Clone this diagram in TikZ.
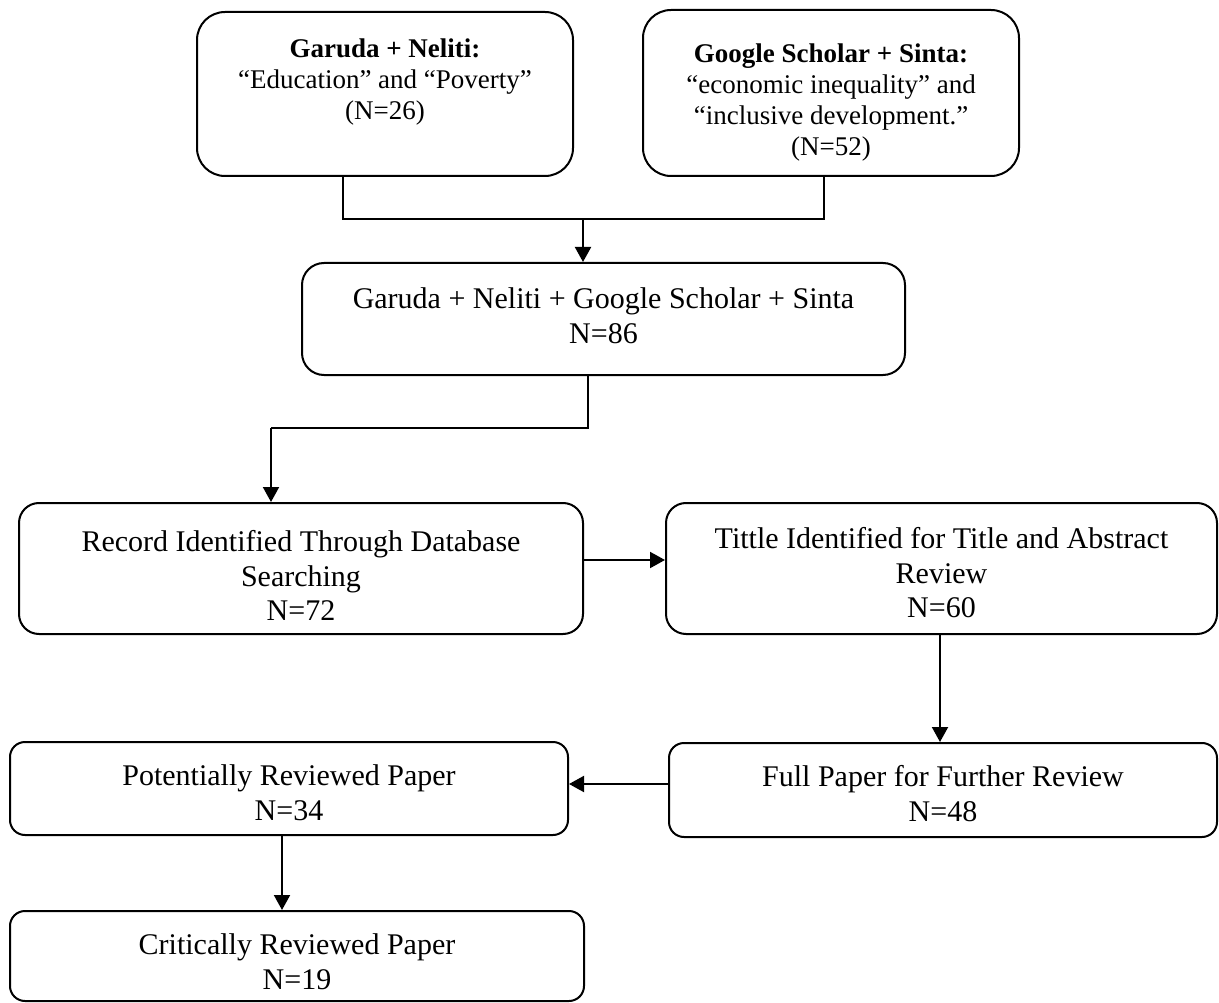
\documentclass[tikz,border=0pt]{standalone}
\usepackage{fontspec}
\setmainfont{Liberation Serif}
\usetikzlibrary{arrows.meta}
\tikzset{
  rbox/.style={draw, line width=2pt, rounded corners=#1, inner sep=0pt, rectangle},
  bigtxt/.style={align=center, inner sep=0pt, font=\fontsize{30}{34.5}\selectfont},
  toptxt/.style={align=center, inner sep=0pt, font=\fontsize{27}{31}\selectfont},
  conn/.style={line width=2pt},
  arr/.style={line width=2pt, -{Triangle[length=15pt,width=16pt]}}
}
\begin{document}
\begin{tikzpicture}[x=1pt,y=-1pt]
\useasboundingbox (0,0) rectangle (1219,1003);
% boxes
\node[rbox=28pt, minimum width=376pt, minimum height=164pt] (A) at (385,94) {};
\node[rbox=28pt, minimum width=376pt, minimum height=166pt] (B) at (831,93) {};
\node[rbox=22pt, minimum width=603pt, minimum height=112pt] (C) at (603.5,319) {};
\node[rbox=20pt, minimum width=564pt, minimum height=131pt] (D) at (301,568.5) {};
\node[rbox=20pt, minimum width=551pt, minimum height=131pt] (E) at (941.5,568.5) {};
\node[rbox=15pt, minimum width=548pt, minimum height=94pt] (F) at (943,790) {};
\node[rbox=15pt, minimum width=558pt, minimum height=93pt] (G) at (289,788.5) {};
\node[rbox=15pt, minimum width=574pt, minimum height=90pt] (H) at (297,956) {};
% texts
\node[toptxt] (tA) at (385,82) {\textbf{Garuda + Neliti:}\\“Education” and “Poverty”\\(N=26)};
\node[toptxt] (tB) at (831,103) {\textbf{Google Scholar + Sinta:}\\“economic inequality” and\\“inclusive development.”\\(N=52)};
\node[bigtxt] (tC) at (603.5,315.5) {Garuda + Neliti + Google Scholar + Sinta\\N=86};
\node[bigtxt] (tD) at (301,575.5) {Record Identified Through Database\\Searching\\N=72};
\node[bigtxt] (tE) at (941.5,573) {Tittle Identified for Title and Abstract\\Review\\N=60};
\node[bigtxt] (tF) at (943,793.5) {Full Paper for Further Review\\N=48};
\node[bigtxt] (tG) at (289,792.5) {Potentially Reviewed Paper\\N=34};
\node[bigtxt] (tH) at (297,961.5) {Critically Reviewed Paper\\N=19};
% junction coordinates
\coordinate (jL) at (343,219);
\coordinate (jR) at (824,219);
\coordinate (jM) at (583,219);
\coordinate (k1) at (588,428);
\coordinate (k2) at (271,428);
\coordinate (eD) at (0,560);
\coordinate (xE) at (940,0);
\coordinate (yF) at (0,784);
\coordinate (xG) at (282,0);
% connectors
\draw[conn] (A.south -| jL) -- (jL) -- (jR) -- (B.south -| jR);
\draw[arr] (jM) -- (C.north -| jM);
\draw[conn] (C.south -| k1) -- (k1) -- (k2);
\draw[arr] (k2) -- (D.north -| k2);
\draw[arr] (D.east |- eD) -- (E.west |- eD);
\draw[arr] (E.south -| xE) -- (F.north -| xE);
\draw[arr] (F.west |- yF) -- (G.east |- yF);
\draw[arr] (G.south -| xG) -- (H.north -| xG);
\end{tikzpicture}
\end{document}
